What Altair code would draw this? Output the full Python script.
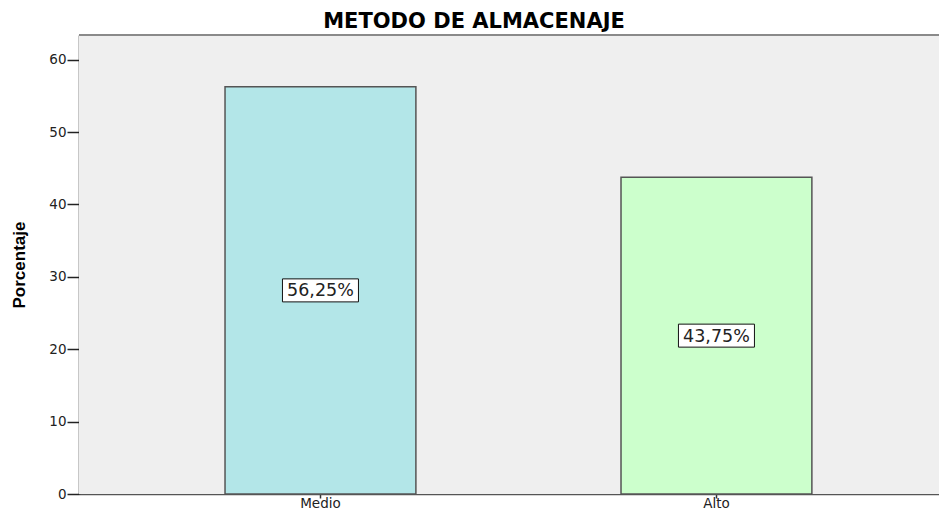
import altair as alt
import pandas as pd

categories = ["Medio", "Alto"]
percentages = [56.25, 43.75]
bar_colors = ["#b3e6e8", "#ccffcc"]
labels = [f"{v:.2f}%".replace(".", ",") for v in percentages]
y_ticks = [0, 10, 20, 30, 40, 50, 60]

df = pd.DataFrame({"cat": categories, "pct": percentages, "label": labels})

W, H = 860, 459

x_enc = alt.X("cat:N", sort=categories, title=None,
              scale=alt.Scale(paddingInner=0.518, paddingOuter=0.3449, align=0.5346),
              axis=alt.Axis(labelAngle=0, labelFont="DejaVu Sans", labelFontSize=13.5,
                            labelColor="#222", labelPadding=9,
                            labelBaseline="alphabetic", tickSize=4,
                            tickColor="#333", tickWidth=1.5, domainColor="#555",
                            domainWidth=1.5))
y_scale = alt.Scale(domain=[0, 63.4], nice=False)

bg = alt.Chart(df).mark_rect(color="#efefef").encode(
    x=alt.value(0), x2=alt.value(W), y=alt.value(0), y2=alt.value(H))

bars = alt.Chart(df).mark_bar(stroke="#555", strokeWidth=1.5).encode(
    x=x_enc,
    y=alt.Y("pct:Q", scale=y_scale, title="Porcentaje",
            axis=alt.Axis(values=y_ticks, grid=False, labelFont="DejaVu Sans",
                          labelFontSize=13.5, labelColor="#222", labelPadding=1,
                          tickSize=12, tickColor="#222", tickWidth=1.5,
                          domainColor="#222", domainWidth=1.5,
                          titleFont="Liberation Sans", titleFontSize=17,
                          titleFontWeight="bold", titleColor="#000",
                          titlePadding=20)),
    color=alt.Color("cat:N", scale=alt.Scale(domain=categories, range=bar_colors),
                    legend=None),
)

base = alt.Chart(df).transform_calculate(mid="datum.pct / 2")

boxes = base.mark_point(
    shape="M-1,-0.3026L1,-0.3026L1,0.3026L-1,0.3026Z", size=5776, filled=True,
    fill="white", stroke="#111", strokeWidth=1, opacity=1,
).encode(x=alt.X("cat:N", sort=categories), y=alt.Y("mid:Q", scale=y_scale))

texts = base.mark_text(font="DejaVu Sans", fontSize=17.5, color="#222",
                       baseline="middle", align="center", dy=1).encode(
    x=alt.X("cat:N", sort=categories), y=alt.Y("mid:Q", scale=y_scale),
    text="label:N")

top_border = alt.Chart(df).mark_rule(color="#8a8a8a", strokeWidth=2).encode(
    x=alt.value(0), x2=alt.value(W), y=alt.value(0))

chart = alt.layer(bg, bars, boxes, texts, top_border).properties(
    width=W, height=H,
    title=alt.Title("METODO DE ALMACENAJE", font="DejaVu Sans", fontSize=21,
                    fontWeight="bold", color="#000", anchor="middle", dx=-35,
                    offset=2),
    autosize=alt.AutoSizeParams(type="none"),
    padding={"left": 71, "top": 27, "right": 0, "bottom": 17},
).configure_view(strokeWidth=0).configure(background="white")

chart.save("out.html", embed_options={"renderer": "svg", "actions": False})
